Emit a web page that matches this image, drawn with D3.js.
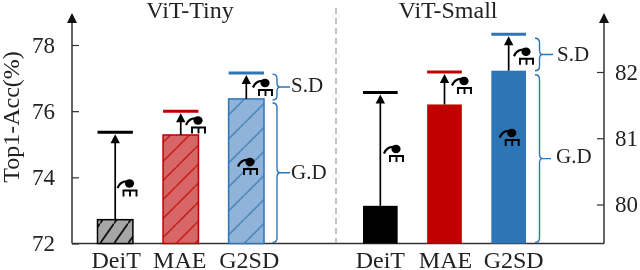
<!DOCTYPE html>
<html>
<head>
<meta charset="utf-8">
<script src="https://cdn.jsdelivr.net/npm/d3@7"></script>
<style>
  html, body { margin: 0; padding: 0; background: #fff; overflow: hidden; }
  text { font-family: "Liberation Serif", serif; fill: #222; }
</style>
</head>
<body>
<div id="chart-area"></div>
<script>
const WIDTH = 640;
const HEIGHT = 270;
const BASE_Y = 243.5;

const categories = ["DeiT", "MAE", "G2SD"];
const panelTitles = ["ViT-Tiny", "ViT-Small"];

// bar top and the cap above it
const tinyBars = [72.72, 75.28, 76.37];
const tinyCaps = [75.36, 76.0, 77.15];
const smallBars = [79.98, 81.51, 82.02];
const smallCaps = [81.69, 82.0, 82.57];

const tinyTicks = [72, 74, 76, 78];
const smallTicks = [80, 81, 82];

const stroke = ["#000000", "#c00000", "#2e75b6"];
const tinyFill = ["#a6a6a6", "#d96666", "#8fb3d9"];
const hatchW = [14, 19, 24];
const hatchH = [20, 19, 24];
const braceColor = "#2e75b6";

const svg = d3.select("#chart-area").append("svg")
  .attr("width", WIDTH)
  .attr("height", HEIGHT)
  .style("display", "block")
  .style("filter", "blur(0.35px)");

const defs = svg.append("defs");

// hatching for the left group
stroke.forEach((c, i) => {
  const w = hatchW[i];
  const h = hatchH[i];
  const p = defs.append("pattern")
    .attr("id", `hatch${i}`)
    .attr("patternUnits", "userSpaceOnUse")
    .attr("patternTransform", `translate(100,${BASE_Y})`)
    .attr("width", w)
    .attr("height", h);
  p.append("rect").attr("width", w).attr("height", h).attr("fill", tinyFill[i]);
  p.append("path")
    .attr("d", `M${-w * 0.1},${h * 1.1}L${w * 1.1},${-h * 0.1}`)
    .attr("stroke", c)
    .attr("stroke-width", i === 0 ? 1.6 : 1.2);
});

// little teacher/student icon, origin at the dot
const icon = defs.append("g").attr("id", "icon");
icon.append("path")
  .attr("d", "M-12,4.5 Q-9,-2.5 -2,-2")
  .attr("fill", "none").attr("stroke", "#000").attr("stroke-width", 2.2);
icon.append("ellipse").attr("cx", 0).attr("cy", 0).attr("rx", 4.6).attr("ry", 4.2).attr("fill", "#000");
icon.append("path")
  .attr("d", "M-7,7H8M-6,7V13M0.5,7V13M7,7V13")
  .attr("fill", "none").attr("stroke", "#000").attr("stroke-width", 1.9);

const yTiny = d3.scaleLinear().domain([72, 78]).range([BASE_Y, 45]);
const ySmall = d3.scaleLinear().domain([80, 82]).range([204.5, 72]);

const xTiny = d3.scaleBand().domain(categories).range([97.5, 264]).paddingInner(0.46);
const xSmall = d3.scaleBand().domain(categories).range([363, 526]).paddingInner(0.46);

// baseline, divider
svg.append("line")
  .attr("x1", 72).attr("x2", 604)
  .attr("y1", BASE_Y).attr("y2", BASE_Y)
  .attr("stroke", "#333").attr("stroke-width", 1.5);

svg.append("line")
  .attr("x1", 336).attr("x2", 336)
  .attr("y1", 8).attr("y2", 243)
  .attr("stroke", "#aaa").attr("stroke-width", 1.4)
  .attr("stroke-dasharray", "6,4");

function drawAxis(scale, ticks, x, orient, labelX, anchor) {
  const axis = orient(scale).tickValues(ticks).tickSize(7).tickFormat(d3.format("d"));
  const g = svg.append("g").attr("transform", `translate(${x},0)`).call(axis);
  g.select(".domain").remove();
  g.selectAll(".tick line").attr("stroke", "#333").attr("stroke-width", 1.2);
  g.selectAll(".tick text")
    .attr("x", labelX)
    .attr("text-anchor", anchor)
    .attr("font-size", 23)
    .attr("fill", "#222")
    .attr("font-family", "Liberation Serif");
  svg.append("line")
    .attr("x1", x).attr("x2", x)
    .attr("y1", 20).attr("y2", BASE_Y)
    .attr("stroke", "#333").attr("stroke-width", 1.5);
  svg.append("path")
    .attr("d", `M${x - 5},23L${x},13L${x + 5},23Z`)
    .attr("fill", "#111");
}

drawAxis(yTiny, tinyTicks, 72, d3.axisRight, -17, "end");
drawAxis(ySmall, smallTicks, 604, d3.axisLeft, 11, "start");

function drawPanel(x, y, bars, caps, hatched, labelShift) {
  categories.forEach((c, i) => {
    const bx = x(c);
    const bw = x.bandwidth();
    const cx = bx + bw / 2;

    svg.append("rect")
      .attr("x", bx).attr("y", y(bars[i]))
      .attr("width", bw).attr("height", BASE_Y - y(bars[i]))
      .attr("fill", hatched ? `url(#hatch${i})` : stroke[i])
      .attr("stroke", stroke[i])
      .attr("stroke-width", hatched ? 1.5 : 0);

    // cap
    svg.append("line")
      .attr("x1", bx).attr("x2", bx + bw)
      .attr("y1", y(caps[i])).attr("y2", y(caps[i]))
      .attr("stroke", stroke[i]).attr("stroke-width", 3);

    // arrow from the bar up to the cap
    svg.append("line")
      .attr("x1", cx).attr("x2", cx)
      .attr("y1", y(bars[i])).attr("y2", y(caps[i]) + 8)
      .attr("stroke", "#000").attr("stroke-width", 1.7);
    svg.append("path")
      .attr("d", `M${cx - 4.7},${y(caps[i]) + 11}L${cx},${y(caps[i]) + 2}L${cx + 4.7},${y(caps[i]) + 11}Z`)
      .attr("fill", "#000");

    svg.append("text")
      .attr("x", cx + labelShift[i])
      .attr("y", 268)
      .attr("text-anchor", "middle")
      .attr("font-size", 24)
      .text(c);
  });
}

drawPanel(xTiny, yTiny, tinyBars, tinyCaps, true, [1, -1, 3]);
drawPanel(xSmall, ySmall, smallBars, smallCaps, false, [0, 1, 5]);

// titles
svg.append("text").attr("x", 190).attr("y", 18).attr("text-anchor", "middle").attr("font-size", 24).text(panelTitles[0]);
svg.append("text").attr("x", 448).attr("y", 18).attr("text-anchor", "middle").attr("font-size", 24).text(panelTitles[1]);

// y label
svg.append("text")
  .attr("transform", "translate(19,117) rotate(-90)")
  .attr("text-anchor", "middle")
  .attr("font-size", 24)
  .text("Top1-Acc(%)");

// icons next to arrows
[[129.5, 183.5], [198, 120.5], [265, 83], [250, 162], [396, 149], [464, 81], [526, 51.7], [511.7, 133]].forEach(p => {
  svg.append("use").attr("href", "#icon").attr("transform", `translate(${p[0]},${p[1]})`);
});

// right-hand curly brace between two y pixel positions
function brace(x, y0, y1, neck) {
  const m = (y0 + y1) / 2;
  const r = 4.5;
  const d = `M${x},${y0}Q${x + r},${y0} ${x + r},${y0 + r}`
    + `V${m - r}Q${x + r},${m} ${x + r + 3},${m}H${neck}`
    + `M${x + r + 3},${m}Q${x + r},${m} ${x + r},${m + r}`
    + `V${y1 - r}Q${x + r},${y1} ${x},${y1}`;
  svg.append("path").attr("d", d).attr("fill", "none").attr("stroke", braceColor).attr("stroke-width", 1.4);
}

brace(272.5, yTiny(tinyCaps[2]) + 1, yTiny(tinyBars[2]) + 1, 290);
brace(272.5, yTiny(tinyBars[2]) + 4, BASE_Y - 1, 290);
brace(535, ySmall(smallCaps[2]) + 4, ySmall(smallBars[2]), 553);
brace(535, ySmall(smallBars[2]) + 4, BASE_Y - 1, 551);

[[291, 92, "S.D"], [291, 179, "G.D"], [557, 61, "S.D"], [556, 163, "G.D"]].forEach(t => {
  svg.append("text").attr("x", t[0]).attr("y", t[1]).attr("font-size", 21).text(t[2]);
});
</script>
</body>
</html>
